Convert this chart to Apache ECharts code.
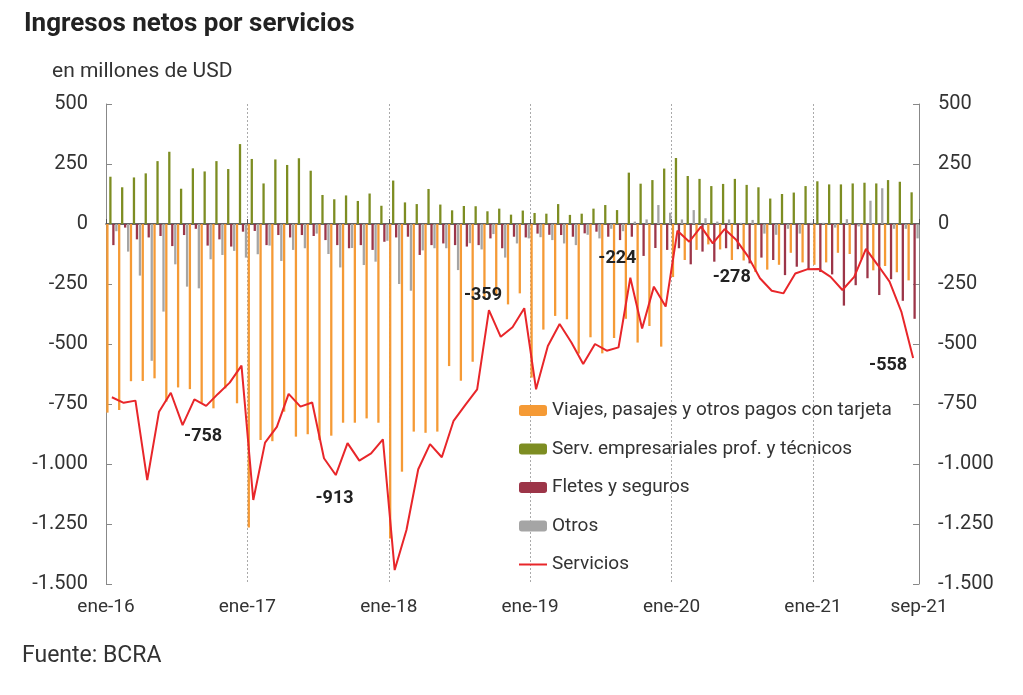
<!DOCTYPE html>
<html>
<head>
<meta charset="utf-8">
<script src="https://cdn.jsdelivr.net/npm/echarts@6/dist/echarts.min.js"></script>
<style>
  html, body { margin: 0; padding: 0; background: #fff; }
  #main { width: 1023px; height: 695px; }
</style>
</head>
<body>
<div id="main"></div>
<script>
// monthly data, ene-16 .. sep-21 (millones de USD)
var viajes = [
  -786, -775, -655, -654, -643, -740, -681, -688, -745, -768, -685, -747,
  -1265, -900, -905, -782, -886, -876, -900, -882, -828, -828, -810, -828,
  -1310, -1032, -865, -870, -865, -592, -653, -574, -310, -293, -335, -289,
  -640, -440, -383, -397, -540, -472, -539, -475, -395, -494, -425, -511,
  -221, -150, -108, -85, -106, -150, -152, -200, -190, -170, -120, -160,
  -170, -160, -120, -125, -147, -193, -175, -201, -235
];
var servEmp = [
  197, 153, 194, 211, 262, 301, 147, 232, 219, 262, 229, 333,
  271, 169, 269, 246, 274, 222, 121, 103, 119, 96, 127, 76,
  181, 90, 83, 146, 81, 57, 75, 74, 53, 64, 39, 56,
  46, 43, 83, 38, 43, 64, 79, 58, 214, 168, 183, 231,
  275, 200, 188, 158, 167, 188, 163, 153, 106, 125, 131, 158,
  178, 165, 165, 169, 172, 169, 183, 176, 132
];
var fletes = [
  -88, -15, -64, -56, -50, -92, -46, -20, -90, -64, -94, -32,
  -29, -88, -46, -56, -46, -50, -67, -88, -101, -88, -108, -74,
  -56, -53, -129, -88, -81, -88, -94, -88, -60, -101, -53, -56,
  -40, -45, -46, -53, -39, -32, -53, -67, -53, -133, -100, -108,
  -101, -168, -115, -157, -101, -105, -164, -140, -150, -213, -178, -190,
  -200, -210, -340, -255, -226, -296, -230, -320, -395
];
var otros = [
  -30, -115, -215, -570, -365, -168, -261, -268, -147, -129, -112, -140,
  -126, -90, -154, -108, -101, -40, -125, -181, -100, -171, -157, -70,
  -250, -278, -110, -101, -101, -192, -80, -106, -42, -140, -81, -60,
  -55, -67, -81, -88, -45, -60, -20, -30, 10, 19, 79, 47,
  19, 58, 24, 10, 19, 5, 17, -40, -45, -20, -40, 5,
  5, -15, 20, -10, 97, 149, -20, -20, -60
];
var servicios = [
  -722, -745, -736, -1067, -782, -703, -838, -731, -758, -708, -661, -590,
  -1150, -911, -845, -708, -761, -744, -976, -1046, -913, -986, -956, -897,
  -1442, -1275, -1022, -917, -972, -820, -754, -689, -359, -470, -430, -351,
  -689, -508, -417, -494, -583, -500, -528, -514, -224, -435, -261, -344,
  -28, -74, -11, -81, -21, -67, -136, -226, -278, -289, -206, -189,
  -188, -220, -275, -220, -104, -171, -240, -365, -558
];
var labelledMonths = ['sep-16', 'sep-17', 'sep-18', 'sep-19', 'sep-20', 'sep-21'];
var xTickLabels = ['ene-16', 'ene-17', 'ene-18', 'ene-19', 'ene-20', 'ene-21', 'sep-21'];
var xTickMonths = [0, 12, 24, 36, 48, 60, 69];

var mesNames = ['ene','feb','mar','abr','may','jun','jul','ago','sep','oct','nov','dic'];
var months = [];
for (var y = 16; y <= 21; y++) {
  for (var m = 0; m < 12; m++) {
    if (months.length < servicios.length) months.push(mesNames[m] + '-' + y);
  }
}

// label offsets for the annotated points
var noteOffsets = {
  'sep-16': [-3, 31], 'sep-17': [-13, 55], 'sep-18': [-6, -15],
  'sep-19': [-13, -19], 'sep-20': [-40, -13], 'sep-21': [-25, 8]
};

function fmtMiles(v) {
  var s = Math.abs(v);
  var txt = s >= 1000 ? Math.floor(s / 1000) + '.' + String(s % 1000).padStart(3, '0') : String(s);
  return (v < 0 ? '-' : '') + txt;
}

// the labelled points only, in a hidden helper series
var noteData = [];
servicios.forEach(function (v, i) {
  if (labelledMonths.indexOf(months[i]) < 0) return;
  noteData.push({ value: [months[i], v],
    label: { show: true, position: 'inside', offset: noteOffsets[months[i]] } });
});

var font = 'Roboto, "Noto Sans", sans-serif';
var chart = echarts.init(document.getElementById('main'));
var barCommon = { type: 'bar', barWidth: 2.3, barGap: '30%', xAxisIndex: 0, yAxisIndex: 0 };

chart.setOption({
  animation: false,
  textStyle: { fontFamily: font },
  title: [
    { text: 'Ingresos netos por servicios', left: 19, top: 6,
      textStyle: { fontSize: 26, fontWeight: 'bold', color: '#222', fontFamily: font } },
    { text: 'en millones de USD', left: 47, top: 56,
      textStyle: { fontSize: 21, fontWeight: 'normal', color: '#333', fontFamily: font } },
    { text: 'Fuente: BCRA', left: 17, top: 640,
      textStyle: { fontSize: 23, fontWeight: 'normal', color: '#333', fontFamily: font } }
  ],
  legend: {
    orient: 'vertical', left: 514, top: 396,
    itemWidth: 28, itemHeight: 11, itemGap: 19.5,
    textStyle: { fontSize: 19, color: '#333', fontFamily: font },
    data: ['Viajes, pasajes y otros pagos con tarjeta', 'Serv. empresariales prof. y técnicos',
      'Fletes y seguros', 'Otros',
      { name: 'Servicios', icon: 'path://M0,0M0,4.5h28v2h-28zM28,11' }]
  },
  grid: { left: 106, right: 104, top: 104, bottom: 111 },
  xAxis: [
    {
      type: 'category', data: months, boundaryGap: true, position: 'bottom',
      axisLine: { onZero: true, lineStyle: { color: '#333', width: 1.5 } },
      axisTick: { show: true, inside: true, length: 5, interval: 11, lineStyle: { color: '#555' } },
      axisLabel: { show: false },
      splitLine: { show: false }
    },
    {
      type: 'value', min: 0, max: 69, interval: 12, position: 'bottom',
      axisLine: { show: false, onZero: false },
      axisTick: { show: false },
      axisLabel: {
        show: true, margin: 14, fontSize: 19, color: '#333', fontFamily: font,
        formatter: function (v) {
          var k = xTickMonths.indexOf(v);
          return k < 0 ? '' : xTickLabels[k];
        }
      },
      splitLine: { show: true, showMinLine: false, showMaxLine: false,
        lineStyle: { color: '#aaa', type: [2, 2], width: 1 } }
    }
  ],
  yAxis: [
    {
      type: 'value', min: -1500, max: 500, interval: 250, position: 'left',
      axisLine: { show: true, lineStyle: { color: '#888' } },
      axisTick: { show: true, inside: true, length: 6, lineStyle: { color: '#888' } },
      axisLabel: { margin: 18, fontSize: 20, color: '#333', fontFamily: font, formatter: fmtMiles },
      splitLine: { show: false }
    },
    {
      type: 'value', min: -1500, max: 500, interval: 250, position: 'right',
      axisLine: { show: true, lineStyle: { color: '#888' } },
      axisTick: { show: true, inside: true, length: 6, lineStyle: { color: '#888' } },
      axisLabel: { margin: 19, fontSize: 20, color: '#333', fontFamily: font, formatter: fmtMiles },
      splitLine: { show: false }
    }
  ],
  series: [
    Object.assign({ name: 'Viajes, pasajes y otros pagos con tarjeta', data: viajes,
      itemStyle: { color: '#F59A35' } }, barCommon),
    Object.assign({ name: 'Serv. empresariales prof. y técnicos', data: servEmp,
      itemStyle: { color: '#7D8D22' } }, barCommon),
    Object.assign({ name: 'Fletes y seguros', data: fletes,
      itemStyle: { color: '#9C3548' } }, barCommon),
    Object.assign({ name: 'Otros', data: otros,
      itemStyle: { color: '#A5A5A5' } }, barCommon),
    {
      name: 'Servicios', type: 'line', data: servicios, xAxisIndex: 0, yAxisIndex: 0,
      symbol: 'none', showSymbol: false, z: 5,
      lineStyle: { color: '#E8262A', width: 2 },
      itemStyle: { color: '#E8262A' }
    },
    {
      name: 'notas', type: 'scatter', data: noteData, xAxisIndex: 0, yAxisIndex: 0,
      symbol: 'circle', symbolSize: 2, z: 6, silent: true,
      itemStyle: { color: 'rgba(0,0,0,0)' },
      label: { show: true, opacity: 1, fontSize: 18, fontWeight: 'bold', color: '#222', fontFamily: font,
        formatter: function (p) { return fmtMiles(p.value[1]); } }
    }
  ]
});
</script>
</body>
</html>
